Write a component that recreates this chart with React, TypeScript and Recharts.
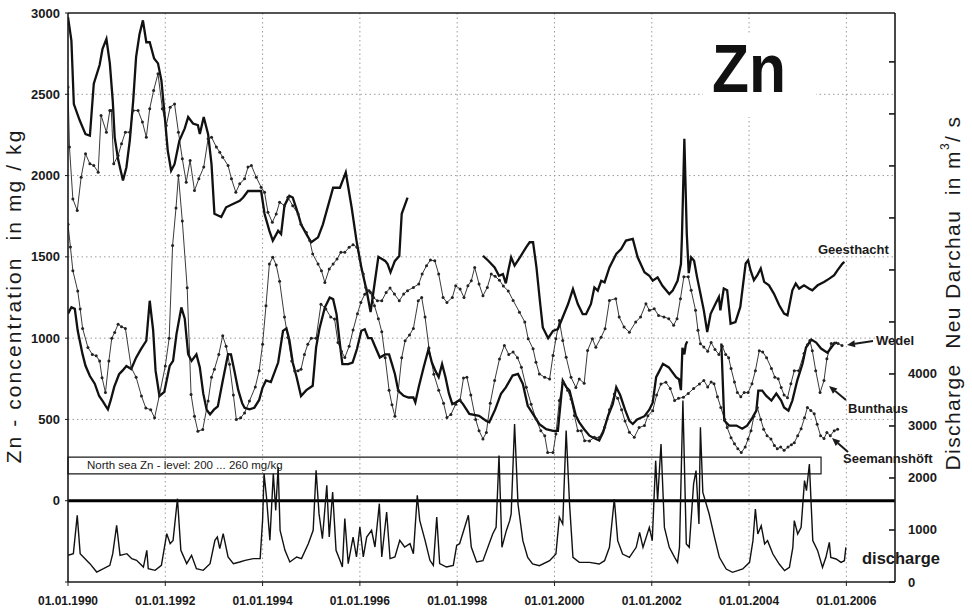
import React from 'react';
import { LineChart, Line, XAxis, YAxis, CartesianGrid, ReferenceLine, ReferenceArea } from 'recharts';

// x ticks (years) and y ticks
const xTicks = [1990, 1992, 1994, 1996, 1998, 2000, 2002, 2004, 2006];
const gridYears = [1991, 1992, 1993, 1994, 1995, 1996, 1997, 1998, 1999, 2000, 2001, 2002, 2003, 2004, 2005, 2006];
const znTicks = [-500, 0, 500, 1000, 1500, 2000, 2500, 3000];
const znGrid = [500, 1000, 1500, 2000, 2500];
const qTicks = [0, 1000, 2000, 3000, 4000, 5000, 6000, 7000, 8000, 9000, 10000];

// [year, Zn mg/kg]
const geesthacht: [number, number | null][] = [
  [1990.0, 2975], [1990.07, 2830], [1990.12, 2440], [1990.24, 2340], [1990.36, 2255], [1990.45, 2245],
  [1990.53, 2565], [1990.65, 2680], [1990.71, 2780], [1990.79, 2840], [1990.86, 2690], [1990.92, 2460],
  [1990.96, 2235], [1991.03, 2100], [1991.13, 1970], [1991.2, 2050], [1991.27, 2215], [1991.34, 2460],
  [1991.4, 2730], [1991.47, 2870], [1991.54, 2955], [1991.61, 2820], [1991.68, 2820], [1991.77, 2720],
  [1991.85, 2690], [1991.92, 2585], [1991.99, 2360], [1992.05, 2155], [1992.12, 2030], [1992.19, 2070],
  [1992.29, 2215], [1992.4, 2290], [1992.47, 2360], [1992.57, 2320], [1992.67, 2310], [1992.71, 2255],
  [1992.79, 2360], [1992.88, 2255], [1992.95, 2070], [1993.01, 1765], [1993.15, 1745], [1993.25, 1805],
  [1993.39, 1825], [1993.53, 1845], [1993.6, 1865], [1993.7, 1905], [1993.97, 1905], [1994.04, 1765],
  [1994.14, 1660], [1994.21, 1600], [1994.32, 1660], [1994.38, 1640], [1994.45, 1815], [1994.55, 1875],
  [1994.62, 1865], [1994.73, 1765], [1994.79, 1700], [1994.9, 1640], [1995.0, 1590], [1995.14, 1620],
  [1995.24, 1700], [1995.45, 1925], [1995.59, 1925], [1995.71, 2020], [1995.83, 1805], [1995.93, 1600],
  [1996.03, 1435], [1996.14, 1290], [1996.22, 1160], [1996.29, 1310], [1996.38, 1500], [1996.52, 1475],
  [1996.57, 1455], [1996.63, 1405], [1996.72, 1475], [1996.81, 1505], [1996.86, 1765], [1996.98, 1865],
  [1997.7, null],
  [1998.53, 1507], [1998.64, 1476], [1998.77, 1435], [1998.86, 1384], [1998.94, 1394], [1999.0, 1337],
  [1999.05, 1415], [1999.11, 1497], [1999.18, 1446], [1999.29, 1497], [1999.42, 1560], [1999.49, 1590],
  [1999.56, 1590], [1999.63, 1435], [1999.7, 1230], [1999.76, 1066], [1999.87, 1000], [1999.97, 1045],
  [2000.07, 1056], [2000.14, 1107], [2000.28, 1210], [2000.38, 1302], [2000.48, 1210], [2000.58, 1148],
  [2000.65, 1148], [2000.75, 1210], [2000.82, 1312], [2000.89, 1292], [2000.96, 1353], [2001.03, 1343],
  [2001.13, 1435], [2001.27, 1518], [2001.37, 1548], [2001.47, 1600], [2001.61, 1610], [2001.71, 1497],
  [2001.85, 1405], [2001.95, 1384], [2002.02, 1353], [2002.12, 1374], [2002.22, 1322], [2002.36, 1271],
  [2002.43, 1292], [2002.53, 1353], [2002.6, 1456], [2002.62, 1620], [2002.67, 2226], [2002.72, 1641],
  [2002.76, 1400], [2002.81, 1497], [2002.87, 1476], [2002.93, 1377], [2003.0, 1274], [2003.07, 1171],
  [2003.14, 1038], [2003.21, 1150], [2003.31, 1212], [2003.38, 1253], [2003.41, 1171], [2003.48, 1305],
  [2003.55, 1294], [2003.62, 1089], [2003.72, 1099], [2003.82, 1192], [2003.93, 1459], [2003.98, 1479],
  [2004.03, 1418], [2004.1, 1356], [2004.17, 1387], [2004.24, 1428], [2004.31, 1346], [2004.41, 1325],
  [2004.51, 1274], [2004.62, 1202], [2004.72, 1151], [2004.79, 1140], [2004.89, 1294], [2004.96, 1336],
  [2005.03, 1305], [2005.13, 1325], [2005.23, 1305], [2005.3, 1294], [2005.41, 1325], [2005.54, 1346],
  [2005.65, 1366], [2005.75, 1387], [2005.82, 1418], [2005.92, 1459], [2005.96, 1469],
];

const bunthaus: [number, number][] = [
  [1990.0, 2545], [1990.03, 2175], [1990.1, 1856], [1990.19, 1785], [1990.27, 1990], [1990.36, 2134],
  [1990.45, 2072], [1990.53, 2062], [1990.62, 2021], [1990.68, 2370], [1990.79, 2267], [1990.86, 2400],
  [1990.89, 2400], [1990.94, 2072], [1991.03, 2123], [1991.1, 2195], [1991.18, 2267], [1991.27, 2267],
  [1991.34, 2400], [1991.44, 2400], [1991.53, 2329], [1991.61, 2236], [1991.68, 2411], [1991.76, 2524],
  [1991.85, 2626], [1991.94, 2411], [1992.02, 2308], [1992.1, 2421], [1992.19, 2441], [1992.27, 2267],
  [1992.35, 2103], [1992.43, 1959], [1992.51, 2093], [1992.6, 1908], [1992.69, 1980], [1992.79, 2052],
  [1992.88, 2226], [1992.95, 2236], [1993.05, 2175], [1993.12, 2144], [1993.18, 2113], [1993.29, 2062],
  [1993.36, 1980], [1993.45, 1897], [1993.53, 1949], [1993.63, 1980], [1993.7, 2052], [1993.77, 2062],
  [1993.87, 1990], [1993.97, 1928], [1994.04, 1897], [1994.11, 1774], [1994.2, 1713], [1994.28, 1764],
  [1994.35, 1836], [1994.45, 1815], [1994.52, 1867], [1994.62, 1815], [1994.73, 1764], [1994.79, 1700],
  [1994.9, 1650], [1994.97, 1600], [1995.03, 1518], [1995.14, 1456], [1995.21, 1415], [1995.28, 1343],
  [1995.37, 1425], [1995.45, 1456], [1995.53, 1487], [1995.61, 1528], [1995.69, 1528], [1995.78, 1559],
  [1995.86, 1575], [1995.94, 1559], [1996.0, 1487], [1996.07, 1394], [1996.12, 1312], [1996.19, 1292],
  [1996.28, 1250], [1996.36, 1230], [1996.45, 1230], [1996.54, 1281], [1996.62, 1308], [1996.71, 1271],
  [1996.81, 1230], [1996.9, 1271], [1996.98, 1292], [1997.1, 1312], [1997.21, 1333], [1997.28, 1394],
  [1997.37, 1446], [1997.45, 1480], [1997.54, 1476], [1997.62, 1394], [1997.71, 1250], [1997.79, 1220],
  [1997.9, 1250], [1997.97, 1322], [1998.06, 1302], [1998.14, 1250], [1998.22, 1322], [1998.29, 1353],
  [1998.36, 1435], [1998.45, 1333], [1998.53, 1261], [1998.62, 1312], [1998.7, 1394], [1998.78, 1380],
  [1998.87, 1356], [1998.95, 1320], [1999.05, 1290], [1999.15, 1232], [1999.28, 1160], [1999.39, 1099],
  [1999.46, 996], [1999.56, 934], [1999.62, 852], [1999.69, 780], [1999.8, 759], [1999.9, 749],
  [1999.97, 893], [2000.03, 996], [2000.1, 1109], [2000.17, 985], [2000.24, 883], [2000.34, 759],
  [2000.44, 697], [2000.51, 749], [2000.61, 722], [2000.68, 924], [2000.78, 996], [2000.85, 944],
  [2000.96, 1006], [2001.04, 1058], [2001.13, 1232], [2001.26, 1243], [2001.33, 1130], [2001.43, 1068],
  [2001.54, 1037], [2001.67, 1099], [2001.77, 1130], [2001.88, 1212], [2001.95, 1171], [2002.05, 1181],
  [2002.14, 1140], [2002.25, 1130], [2002.35, 1120], [2002.45, 1079], [2002.52, 1120], [2002.59, 1243],
  [2002.66, 1377], [2002.75, 1377], [2002.81, 1294], [2002.9, 1171], [2002.95, 1048], [2003.0, 966],
  [2003.07, 945], [2003.15, 920], [2003.22, 973], [2003.3, 930], [2003.38, 900], [2003.45, 950],
  [2003.52, 900], [2003.58, 880], [2003.63, 813], [2003.7, 730], [2003.76, 665], [2003.83, 640],
  [2003.9, 665], [2003.98, 665], [2004.06, 720], [2004.13, 800], [2004.21, 923], [2004.28, 915],
  [2004.36, 880], [2004.46, 813], [2004.53, 760], [2004.6, 750], [2004.66, 696], [2004.72, 650],
  [2004.79, 634], [2004.86, 720], [2004.93, 800], [2005.02, 800], [2005.13, 905], [2005.2, 960],
  [2005.25, 985], [2005.3, 923], [2005.37, 800], [2005.46, 665], [2005.54, 739], [2005.6, 874],
  [2005.69, 967], [2005.76, 970], [2005.83, 967], [2005.91, 954],
];

const wedel: [number, number | null][] = [
  [1990.0, 1150], [1990.07, 1190], [1990.14, 1180], [1990.2, 1045], [1990.3, 900], [1990.36, 830],
  [1990.45, 767], [1990.55, 720], [1990.64, 644], [1990.72, 610], [1990.78, 580], [1990.82, 562],
  [1990.88, 620], [1990.95, 700], [1991.05, 778], [1991.12, 800], [1991.2, 829], [1991.3, 810],
  [1991.4, 880], [1991.5, 932], [1991.61, 984], [1991.68, 1230], [1991.75, 1050], [1991.8, 800],
  [1991.88, 644], [1991.98, 670], [1992.09, 829], [1992.16, 860], [1992.23, 1025], [1992.33, 1189],
  [1992.4, 1120], [1992.47, 901], [1992.54, 860], [1992.64, 900], [1992.71, 820], [1992.78, 660],
  [1992.85, 560], [1992.92, 531], [1993.0, 560], [1993.08, 580], [1993.18, 736], [1993.29, 901],
  [1993.35, 900], [1993.42, 800], [1993.5, 680], [1993.58, 600], [1993.63, 572], [1993.73, 562],
  [1993.83, 572], [1993.93, 620], [1994.0, 696], [1994.07, 740], [1994.17, 730], [1994.32, 850],
  [1994.42, 1045], [1994.49, 1060], [1994.55, 990], [1994.62, 850], [1994.7, 760], [1994.79, 644],
  [1994.9, 680], [1995.03, 707], [1995.1, 943], [1995.17, 1060], [1995.28, 1189], [1995.38, 1250],
  [1995.45, 1240], [1995.52, 1148], [1995.58, 990], [1995.64, 840], [1995.76, 840], [1995.85, 850],
  [1995.94, 933], [1996.03, 1045], [1996.1, 1055], [1996.17, 1000], [1996.24, 1000], [1996.31, 950],
  [1996.41, 881], [1996.52, 900], [1996.6, 900], [1996.66, 840], [1996.72, 780], [1996.79, 676],
  [1996.9, 645], [1997.0, 635], [1997.1, 635], [1997.14, 605], [1997.21, 700], [1997.31, 820],
  [1997.41, 932], [1997.48, 850], [1997.55, 800], [1997.62, 760], [1997.69, 840], [1997.76, 760],
  [1997.83, 660], [1997.9, 594], [1997.97, 604], [1998.05, 620], [1998.12, 594], [1998.25, 534],
  [1998.45, 522], [1998.6, 490], [1998.66, 482], [1998.78, 560], [1998.9, 657], [1999.0, 697],
  [1999.14, 770], [1999.25, 780], [1999.35, 718], [1999.45, 584], [1999.56, 533], [1999.69, 471],
  [1999.83, 440], [1999.97, 430], [2000.07, 430], [2000.17, 739], [2000.24, 700], [2000.31, 677],
  [2000.44, 523], [2000.51, 482], [2000.61, 440], [2000.72, 400], [2000.79, 389], [2000.92, 370],
  [2001.0, 420], [2001.1, 520], [2001.2, 595], [2001.27, 698], [2001.35, 650], [2001.45, 560],
  [2001.54, 491], [2001.61, 472], [2001.7, 500], [2001.85, 520], [2001.95, 560], [2002.02, 604],
  [2002.09, 760], [2002.16, 800], [2002.23, 842], [2002.35, 820], [2002.5, 760], [2002.56, 747],
  [2002.6, 680], [2002.63, 940], [2002.67, 900], [2002.7, 960], [2002.73, 980],
  [2003.1, null],
  [2003.43, 967], [2003.49, 493], [2003.59, 462], [2003.74, 462], [2003.86, 443], [2003.96, 462],
  [2004.07, 511], [2004.15, 554], [2004.19, 677], [2004.27, 677], [2004.35, 646], [2004.46, 616],
  [2004.56, 659], [2004.66, 616], [2004.72, 573], [2004.81, 554], [2004.89, 616], [2004.99, 739],
  [2005.1, 844], [2005.17, 942], [2005.28, 991], [2005.38, 973], [2005.48, 936], [2005.61, 911],
  [2005.69, 942], [2005.75, 967], [2005.81, 973],
];

const seemannshoeft: [number, number][] = [
  [1990.0, 1700], [1990.05, 1560], [1990.1, 1415], [1990.2, 1290], [1990.25, 1180], [1990.3, 1060],
  [1990.41, 942], [1990.5, 900], [1990.58, 891], [1990.65, 860], [1990.7, 757], [1990.77, 665],
  [1990.84, 860], [1990.9, 1000], [1990.96, 1035], [1991.03, 1086], [1991.1, 1070], [1991.18, 1060],
  [1991.3, 818], [1991.4, 760], [1991.51, 644], [1991.6, 570], [1991.7, 560], [1991.78, 510],
  [1991.88, 650], [1992.0, 829], [1992.08, 1000], [1992.15, 1570], [1992.22, 1800], [1992.27, 2000],
  [1992.35, 1720], [1992.45, 1310], [1992.53, 654], [1992.6, 520], [1992.67, 428], [1992.77, 438],
  [1992.88, 613], [1992.95, 760], [1993.01, 809], [1993.1, 900], [1993.18, 1014], [1993.25, 950],
  [1993.32, 840], [1993.4, 650], [1993.46, 500], [1993.55, 510], [1993.63, 540], [1993.73, 613],
  [1993.85, 700], [1993.93, 800], [1994.0, 963], [1994.07, 1200], [1994.14, 1456], [1994.21, 1497],
  [1994.28, 1450], [1994.35, 1350], [1994.45, 1130], [1994.52, 1004], [1994.6, 860], [1994.66, 798],
  [1994.73, 800], [1994.79, 809], [1994.86, 900], [1994.93, 963], [1995.0, 1000], [1995.1, 1000],
  [1995.2, 1209], [1995.3, 1180], [1995.4, 1130], [1995.48, 1117], [1995.55, 973], [1995.62, 920],
  [1995.69, 881], [1995.78, 950], [1995.86, 1050], [1995.95, 1150], [1996.02, 1220], [1996.1, 1270],
  [1996.15, 1290], [1996.22, 1280], [1996.3, 1200], [1996.38, 1120], [1996.45, 1040], [1996.52, 880],
  [1996.6, 680], [1996.66, 590], [1996.72, 520], [1996.79, 680], [1996.86, 880], [1996.93, 984],
  [1997.02, 1020], [1997.1, 1060], [1997.2, 1230], [1997.27, 1250], [1997.34, 1130], [1997.42, 940],
  [1997.52, 778], [1997.62, 680], [1997.72, 600], [1997.79, 512], [1997.87, 530], [1997.97, 594],
  [1998.06, 620], [1998.13, 755], [1998.2, 760], [1998.28, 650], [1998.38, 500], [1998.45, 430],
  [1998.53, 380], [1998.6, 420], [1998.68, 600], [1998.77, 739], [1998.87, 872], [1998.97, 955],
  [1999.06, 900], [1999.15, 914], [1999.24, 880], [1999.32, 821], [1999.42, 698], [1999.52, 594],
  [1999.62, 502], [1999.72, 430], [1999.8, 399], [1999.86, 296], [1999.97, 296], [2000.03, 410],
  [2000.1, 616], [2000.18, 729], [2000.27, 680], [2000.34, 625], [2000.41, 524], [2000.48, 430],
  [2000.55, 431], [2000.62, 369], [2000.72, 368], [2000.82, 390], [2000.92, 389], [2001.03, 452],
  [2001.13, 560], [2001.23, 656], [2001.3, 630], [2001.38, 560], [2001.45, 490], [2001.54, 421],
  [2001.64, 390], [2001.74, 450], [2001.85, 462], [2001.92, 522], [2002.02, 554], [2002.1, 650],
  [2002.19, 718], [2002.29, 729], [2002.38, 690], [2002.47, 616], [2002.55, 630], [2002.65, 636],
  [2002.75, 660], [2002.86, 690], [2002.98, 718], [2003.07, 740], [2003.15, 700], [2003.22, 730],
  [2003.28, 720], [2003.35, 640], [2003.42, 573], [2003.5, 500], [2003.55, 450], [2003.63, 388],
  [2003.7, 350], [2003.77, 320], [2003.84, 296], [2003.92, 330], [2003.98, 380], [2004.04, 431],
  [2004.1, 520], [2004.17, 573], [2004.24, 500], [2004.3, 440], [2004.37, 400], [2004.45, 380],
  [2004.52, 340], [2004.58, 320], [2004.65, 330], [2004.72, 310], [2004.8, 330], [2004.87, 345],
  [2004.93, 357], [2005.0, 400], [2005.07, 443], [2005.14, 510], [2005.2, 573], [2005.27, 555],
  [2005.34, 535], [2005.4, 470], [2005.47, 400], [2005.54, 382], [2005.6, 420], [2005.67, 400],
  [2005.75, 431], [2005.82, 440],
];

// [year, discharge Neu Darchau m3/s]
const discharge: [number, number][] = [
  [1990.0, 513], [1990.11, 545], [1990.19, 1282], [1990.25, 545], [1990.35, 449], [1990.45, 353],
  [1990.59, 192], [1990.73, 256], [1990.86, 320], [1990.92, 545], [1991.0, 1090], [1991.07, 513],
  [1991.21, 545], [1991.31, 449], [1991.41, 417], [1991.55, 288], [1991.62, 609], [1991.65, 256],
  [1991.79, 224], [1991.92, 320], [1992.03, 929], [1992.1, 737], [1992.16, 801], [1992.25, 1602],
  [1992.32, 609], [1992.44, 353], [1992.54, 513], [1992.64, 256], [1992.78, 224], [1992.92, 353],
  [1993.02, 801], [1993.07, 865], [1993.12, 641], [1993.19, 929], [1993.29, 481], [1993.4, 353],
  [1993.53, 385], [1993.64, 417], [1993.81, 449], [1993.95, 449], [1994.0, 1186], [1994.03, 2083],
  [1994.08, 1635], [1994.15, 801], [1994.22, 2083], [1994.27, 1378], [1994.32, 2211], [1994.36, 994],
  [1994.46, 609], [1994.56, 385], [1994.7, 481], [1994.8, 449], [1994.94, 737], [1995.04, 994],
  [1995.1, 2147], [1995.16, 1314], [1995.23, 833], [1995.32, 1859], [1995.37, 865], [1995.44, 1731],
  [1995.51, 609], [1995.59, 417], [1995.64, 288], [1995.69, 1218], [1995.76, 353], [1995.86, 865],
  [1995.93, 481], [1996.0, 1058], [1996.07, 481], [1996.14, 865], [1996.24, 994], [1996.31, 673],
  [1996.4, 1506], [1996.45, 481], [1996.55, 1346], [1996.62, 449], [1996.72, 481], [1996.82, 801],
  [1996.92, 673], [1997.03, 737], [1997.1, 545], [1997.18, 1667], [1997.23, 1186], [1997.34, 801],
  [1997.44, 417], [1997.51, 320], [1997.58, 1250], [1997.64, 353], [1997.78, 288], [1997.92, 320],
  [1997.99, 705], [1998.05, 737], [1998.23, 1282], [1998.29, 673], [1998.4, 385], [1998.53, 410],
  [1998.73, 923], [1998.8, 1050], [1998.86, 2430], [1998.92, 667], [1999.01, 987], [1999.08, 1180],
  [1999.11, 1308], [1999.18, 3038], [1999.25, 1500], [1999.35, 795], [1999.45, 474], [1999.55, 346],
  [1999.69, 314], [1999.9, 410], [2000.03, 538], [2000.1, 1244], [2000.17, 1115], [2000.24, 2910],
  [2000.31, 1500], [2000.38, 474], [2000.51, 378], [2000.72, 378], [2000.92, 346], [2001.03, 410],
  [2001.13, 667], [2001.23, 1596], [2001.3, 795], [2001.4, 538], [2001.54, 474], [2001.68, 667],
  [2001.75, 955], [2001.82, 667], [2001.95, 1050], [2002.01, 795], [2002.08, 2333], [2002.12, 1564],
  [2002.19, 2654], [2002.26, 1050], [2002.36, 667], [2002.47, 474], [2002.53, 378], [2002.57, 667],
  [2002.64, 3487], [2002.71, 731], [2002.77, 667], [2002.86, 1885], [2002.91, 2141], [2002.97, 1115],
  [2003.0, 2974], [2003.05, 1724], [2003.12, 1500], [2003.18, 1308], [2003.29, 859], [2003.39, 474],
  [2003.53, 250], [2003.66, 186], [2003.87, 250], [2004.01, 378], [2004.08, 795], [2004.13, 1404],
  [2004.18, 923], [2004.25, 1083], [2004.32, 731], [2004.38, 795], [2004.49, 538], [2004.62, 346],
  [2004.73, 218], [2004.83, 282], [2004.9, 667], [2004.93, 1180], [2005.0, 923], [2005.07, 1050],
  [2005.14, 1949], [2005.18, 1756], [2005.24, 2269], [2005.31, 795], [2005.41, 603], [2005.51, 282],
  [2005.58, 474], [2005.65, 763], [2005.68, 474], [2005.79, 442], [2005.89, 378], [2005.96, 410],
  [2005.99, 667],
];

const rows = (pts: [number, number | null][]) => pts.map(([t, v]) => ({ t, v }));

const FONT = 'Arial, "Liberation Sans", sans-serif';
const INK = '#1a1a1a';

const RightTick = (props: any) => {
  const { x, y, payload } = props;
  const axisX = x - 13;
  return (
    <g>
      <line x1={axisX - 6} y1={y} x2={axisX} y2={y} stroke={INK} strokeWidth={1.6} />
      {payload.value <= 4000 && (
        <text x={x} y={y} dy={4.5} textAnchor="start" fontSize={13} fontWeight="bold" fill={INK} fontFamily={FONT}>
          {payload.value}
        </text>
      )}
    </g>
  );
};

const Arrow = ({ x1, y1, x2, y2 }: { x1: number; y1: number; x2: number; y2: number }) => {
  const a = Math.atan2(y2 - y1, x2 - x1);
  const L = 8;
  const W = 3.5;
  const bx = x2 - L * Math.cos(a);
  const by = y2 - L * Math.sin(a);
  const px = -Math.sin(a) * W;
  const py = Math.cos(a) * W;
  return (
    <g>
      <line x1={x1} y1={y1} x2={bx} y2={by} stroke={INK} strokeWidth={2} />
      <polygon points={`${x2},${y2} ${bx + px},${by + py} ${bx - px},${by - py}`} fill={INK} />
    </g>
  );
};

export default function App() {
  return (
    <div style={{ position: 'absolute', left: 0, top: 0, width: 972, height: 609, background: '#fff', fontFamily: FONT }}>
      <LineChart width={972} height={609} margin={{ top: 13, right: 27, bottom: 0, left: 8 }}>
        <CartesianGrid
          stroke="#9a9a9a"
          strokeDasharray="1.5 3"
          horizontalValues={znGrid}
          verticalValues={gridYears}
          yAxisId="zn"
        />
        <XAxis
          type="number"
          dataKey="t"
          domain={[1990, 2007]}
          ticks={xTicks}
          allowDataOverflow
          height={27}
          tickSize={4}
          tickMargin={10}
          tickFormatter={(v: number) => `01.01.${v}`}
          tick={{ fontSize: 12, fontWeight: 'bold', fill: INK, fontFamily: FONT }}
          stroke={INK}
          axisLine={{ stroke: INK, strokeWidth: 1.6 }}
        />
        <YAxis
          yAxisId="zn"
          orientation="left"
          domain={[-500, 3000]}
          ticks={znTicks}
          allowDataOverflow
          width={60}
          tickSize={3}
          tickMargin={5}
          tickFormatter={(v: number) => (v < 0 ? '' : String(v))}
          tick={{ fontSize: 13, fontWeight: 'bold', fill: INK, fontFamily: FONT }}
          stroke={INK}
          axisLine={{ stroke: INK, strokeWidth: 1.6 }}
        />
        <YAxis
          yAxisId="q"
          orientation="right"
          domain={[0, 10940]}
          ticks={qTicks}
          allowDataOverflow
          width={50}
          tickSize={0}
          tickMargin={13}
          tickLine={false}
          tick={<RightTick />}
          axisLine={{ stroke: INK, strokeWidth: 1.6 }}
        />
        <ReferenceLine yAxisId="zn" y={3000} stroke={INK} strokeWidth={1.6} />
        <ReferenceArea
          yAxisId="zn"
          x1={1990}
          x2={2005.48}
          y1={165}
          y2={268}
          fill="none"
          fillOpacity={0}
          stroke={INK}
          strokeWidth={1.2}
        />
        <ReferenceLine yAxisId="zn" y={0} stroke="#000" strokeWidth={3} />
        <Line
          yAxisId="q"
          data={rows(discharge)}
          dataKey="v"
          type="linear"
          stroke="#111"
          strokeWidth={1.4}
          dot={false}
          isAnimationActive={false}
        />
        <Line
          yAxisId="zn"
          data={rows(seemannshoeft)}
          dataKey="v"
          type="linear"
          stroke="#3a3a3a"
          strokeWidth={1}
          dot={{ r: 1.5, fill: '#222', stroke: 'none' }}
          isAnimationActive={false}
        />
        <Line
          yAxisId="zn"
          data={rows(bunthaus)}
          dataKey="v"
          type="linear"
          stroke="#3a3a3a"
          strokeWidth={1}
          dot={{ r: 1.5, fill: '#222', stroke: 'none' }}
          isAnimationActive={false}
        />
        <Line
          yAxisId="zn"
          data={rows(wedel)}
          dataKey="v"
          type="linear"
          stroke="#111"
          strokeWidth={2.3}
          dot={false}
          isAnimationActive={false}
        />
        <Line
          yAxisId="zn"
          data={rows(geesthacht)}
          dataKey="v"
          type="linear"
          stroke="#111"
          strokeWidth={2.3}
          dot={false}
          isAnimationActive={false}
        />
      </LineChart>
      <svg
        width={972}
        height={609}
        style={{ position: 'absolute', left: 0, top: 0, pointerEvents: 'none' }}
        fontFamily={FONT}
      >
        <rect x={703} y={33} width={113} height={84} fill="#fff" />
        <text x={712} y={92} fontSize={68} fontWeight="bold" fill="#111" textLength={74} lengthAdjust="spacingAndGlyphs">
          Zn
        </text>
        <text
          transform="translate(15,296) rotate(-90)"
          textAnchor="middle"
          dominantBaseline="middle"
          fontSize={21}
          letterSpacing={2.1}
          fill={INK}
          style={{ whiteSpace: 'pre' }}
        >
          {'Zn - concentration  in mg / kg'}
        </text>
        <text
          transform="translate(954,293) rotate(-90)"
          textAnchor="middle"
          dominantBaseline="middle"
          fontSize={21}
          letterSpacing={1.4}
          fill={INK}
          style={{ whiteSpace: 'pre' }}
        >
          {'Discharge  Neu Darchau  in m'}
          <tspan fontSize={12} dy={-8}>3</tspan>
          <tspan dy={8}>{'/ s'}</tspan>
        </text>
        <text x={87} y={469} fontSize={11.5} fill={INK}>
          North sea Zn - level: 200 ... 260 mg/kg
        </text>
        <text x={818} y={254} fontSize={13} fontWeight="bold" fill={INK}>Geesthacht</text>
        <text x={876} y={345} fontSize={13} fontWeight="bold" fill={INK}>Wedel</text>
        <text x={848} y={413} fontSize={13} fontWeight="bold" fill={INK}>Bunthaus</text>
        <text x={843} y={463} fontSize={13} fontWeight="bold" fill={INK}>Seemannshöft</text>
        <text x={862} y={564} fontSize={16.5} fontWeight="bold" fill={INK}>discharge</text>
        <Arrow x1={873} y1={341} x2={847} y2={345} />
        <Arrow x1={846} y1={400} x2={829} y2={386} />
        <Arrow x1={848} y1={452} x2={832} y2={438} />
      </svg>
    </div>
  );
}
